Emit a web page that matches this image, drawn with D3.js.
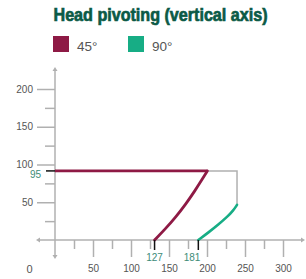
<!DOCTYPE html>
<html><head><meta charset="utf-8">
<script src="https://cdn.jsdelivr.net/npm/d3@7"></script>
<style>html,body{margin:0;padding:0;background:#fff;}svg{display:block;}</style>
</head><body>
<script>
// ---- data ----
const title = "Head pivoting (vertical axis)";
const seriesNames = ["45°", "90°"];
const seriesColors = ["#8e1a45", "#17ad85"];
const curve45 = [[131, 0], [145, 14.5], [159, 30.5], [172, 47.5], [184, 65], [194, 81], [200.5, 91.5]];
const curve90 = [[188.6, 0], [202, 10], [215, 20.5], [227, 31], [234.5, 39], [239.5, 46.5]];
const plateau = [[0, 91.5], [200.5, 91.5]];
const connector = [[200.5, 91.5], [239.5, 91.5], [239.5, 46.5]];
const yMajorTicks = [50, 100, 150, 200];
const yMinorTicks = [25, 75, 125, 175];
const xMajorTicks = [50, 100, 150, 200, 250, 300];
const xMinorTicks = [25, 75, 125, 175, 225, 275];
const originLabel = "0";
const xMarkers = [{v: 131, label: "127"}, {v: 188.6, label: "181"}];
const yMarker = {v: 91.5, label: "95"};

const W = 306, H = 279;
const svg = d3.select("body").append("svg").attr("width", W).attr("height", H);
const x = d3.scaleLinear().domain([0, 300]).range([55, 283]);
const y = d3.scaleLinear().domain([0, 200]).range([240, 89]);
const gray = "#b0b0b0", labelColor = "#555", teal = "#3d8c78";
const font = "Liberation Sans, Arial, sans-serif";

// title
svg.append("text").attr("x", 53.5).attr("y", 20.7)
  .attr("font-family", "Liberation Sans Narrow, Liberation Sans, sans-serif")
  .attr("font-weight", "bold").attr("font-size", 18.5)
  .attr("fill", "#0b5a46").attr("stroke", "#0b5a46").attr("stroke-width", 0.7)
  .attr("textLength", 214).attr("lengthAdjust", "spacingAndGlyphs")
  .text(title);

// legend
const lg = svg.append("g");
seriesNames.forEach((n, i) => {
  const lx = 53 + i * 75;
  lg.append("rect").attr("x", lx).attr("y", 36).attr("width", 16).attr("height", 16).attr("fill", seriesColors[i]);
  lg.append("text").attr("x", lx + 24).attr("y", 50.5).attr("font-family", font)
    .attr("font-size", 13.5).attr("fill", labelColor).text(n);
});

// axis lines with arrows
const ax = svg.append("g").attr("stroke", gray).attr("stroke-width", 1.5).attr("fill", "none");
const x0 = x(0), y0 = y(0);
const yt = y.range()[1] - 20, yb = y0 + 17, xl = x0 - 17, xr = x.range()[1] + 20;
ax.append("line").attr("x1", x0).attr("x2", x0).attr("y1", yt).attr("y2", yb);
ax.append("line").attr("x1", xl).attr("x2", xr).attr("y1", y0).attr("y2", y0);
const arrows = svg.append("g").attr("fill", gray);
arrows.append("path").attr("d", `M${x0},${yt - 2} l-2.5,4 h5 z`);
arrows.append("path").attr("d", `M${x0},${yb + 2} l-2.5,-4 h5 z`);
arrows.append("path").attr("d", `M${xl - 2},${y0} l4,-2.5 v5 z`);
arrows.append("path").attr("d", `M${xr + 2},${y0} l-4,-2.5 v5 z`);

// y axis ticks
const yMaj = svg.append("g").attr("transform", `translate(${x0},0)`)
  .call(d3.axisLeft(y).tickValues(yMajorTicks).tickSize(18).tickPadding(4));
const yMin = svg.append("g").attr("transform", `translate(${x0},0)`)
  .call(d3.axisLeft(y).tickValues(yMinorTicks).tickSize(10).tickFormat(""));
// x axis ticks
const xMaj = svg.append("g").attr("transform", `translate(0,${y0})`)
  .call(d3.axisBottom(x).tickValues(xMajorTicks).tickSize(17).tickPadding(8));
const xMin = svg.append("g").attr("transform", `translate(0,${y0})`)
  .call(d3.axisBottom(x).tickValues(xMinorTicks).tickSize(9).tickFormat(""));
[yMaj, yMin, xMaj, xMin].forEach(g => {
  g.select(".domain").remove();
  g.selectAll("line").attr("stroke", gray).attr("stroke-width", 1.5);
  g.selectAll("text").attr("font-family", font).attr("font-size", 10).attr("fill", labelColor);
});
svg.append("text").attr("x", x0 - 25.5).attr("y", 272.5).attr("text-anchor", "middle")
  .attr("font-family", font).attr("font-size", 11).attr("fill", labelColor).text(originLabel);

// lines
const line = d3.line().x(d => x(d[0])).y(d => y(d[1]));
const cline = d3.line().x(d => x(d[0])).y(d => y(d[1])).curve(d3.curveBasis);
svg.append("path").attr("d", line(connector)).attr("fill", "none").attr("stroke", gray).attr("stroke-width", 1.5);
svg.append("path").attr("d", line(plateau)).attr("fill", "none").attr("stroke", seriesColors[0]).attr("stroke-width", 2.8);
svg.append("path").attr("d", cline(curve45)).attr("fill", "none").attr("stroke", seriesColors[0]).attr("stroke-width", 2.8).attr("stroke-linecap", "round");
svg.append("path").attr("d", cline(curve90)).attr("fill", "none").attr("stroke", seriesColors[1]).attr("stroke-width", 2.6).attr("stroke-linecap", "round");

// markers
xMarkers.forEach((m, i) => {
  svg.append("line").attr("x1", x(m.v)).attr("x2", x(m.v)).attr("y1", y0).attr("y2", y0 + 10)
    .attr("stroke", "#111").attr("stroke-width", 1.5);
  svg.append("text").attr("x", x(m.v) + (i === 1 ? 2 : 0)).attr("y", 260.5)
    .attr("text-anchor", i === 1 ? "end" : "middle")
    .attr("font-family", font).attr("font-size", 10).attr("fill", teal).text(m.label);
});
svg.append("line").attr("x1", x0 - 9).attr("x2", x0).attr("y1", y(yMarker.v)).attr("y2", y(yMarker.v))
  .attr("stroke", "#111").attr("stroke-width", 1.5);
svg.append("text").attr("x", x0 - 14).attr("y", y(yMarker.v) + 7)
  .attr("text-anchor", "end").attr("font-family", font).attr("font-size", 10).attr("fill", teal).text(yMarker.label);
</script>
</body></html>
